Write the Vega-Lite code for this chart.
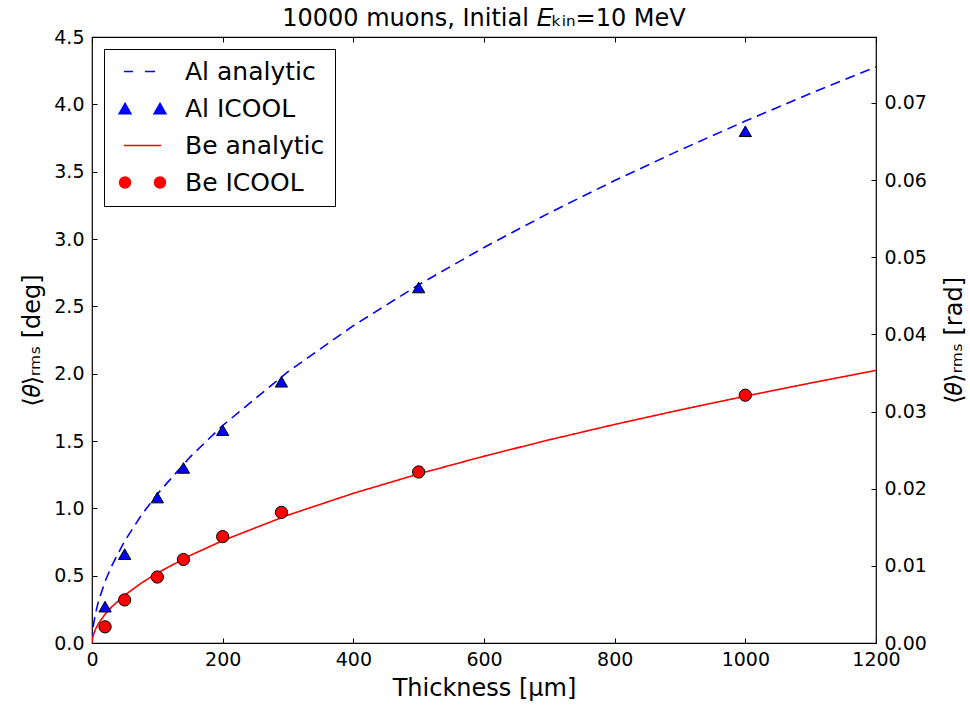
{
  "$schema": "https://vega.github.io/schema/vega-lite/v6.json",
  "width": 784,
  "height": 606,
  "autosize": {"type": "none"},
  "padding": {"left": 92, "top": 37, "right": 94, "bottom": 66},
  "background": "white",
  "title": {
    "text": "10000 muons, Initial 𝐸ₖᵢₙ=10 MeV",
    "font": "DejaVu Sans",
    "fontSize": 24,
    "fontWeight": "normal",
    "color": "black",
    "anchor": "middle",
    "frame": "group",
    "offset": -3
  },
  "config": {
    "view": {"stroke": "black", "strokeWidth": 1.2},
    "axis": {
      "domain": false,
      "grid": false,
      "ticks": true,
      "tickColor": "black",
      "tickSize": -5,
      "tickWidth": 1,
      "labelFlush": false,
      "labelFont": "DejaVu Sans",
      "labelFontSize": 19,
      "labelColor": "black",
      "titleFont": "DejaVu Sans",
      "titleFontSize": 24,
      "titleFontWeight": "normal",
      "titleColor": "black"
    }
  },
  "data": {
    "values": [
      {"series": "Al analytic", "thickness": 0, "theta": 0},
      {"series": "Al analytic", "thickness": 0.2, "theta": 0.035},
      {"series": "Al analytic", "thickness": 1, "theta": 0.0867},
      {"series": "Al analytic", "thickness": 2, "theta": 0.1277},
      {"series": "Al analytic", "thickness": 5, "theta": 0.2126},
      {"series": "Al analytic", "thickness": 10, "theta": 0.3120},
      {"series": "Al analytic", "thickness": 20, "theta": 0.4574},
      {"series": "Al analytic", "thickness": 30, "theta": 0.5717},
      {"series": "Al analytic", "thickness": 50, "theta": 0.7568},
      {"series": "Al analytic", "thickness": 75, "theta": 0.9451},
      {"series": "Al analytic", "thickness": 100, "theta": 1.1062},
      {"series": "Al analytic", "thickness": 150, "theta": 1.3806},
      {"series": "Al analytic", "thickness": 200, "theta": 1.6153},
      {"series": "Al analytic", "thickness": 300, "theta": 2.0147},
      {"series": "Al analytic", "thickness": 400, "theta": 2.3562},
      {"series": "Al analytic", "thickness": 500, "theta": 2.6602},
      {"series": "Al analytic", "thickness": 600, "theta": 2.9373},
      {"series": "Al analytic", "thickness": 700, "theta": 3.1938},
      {"series": "Al analytic", "thickness": 800, "theta": 3.4339},
      {"series": "Al analytic", "thickness": 900, "theta": 3.6606},
      {"series": "Al analytic", "thickness": 1000, "theta": 3.8759},
      {"series": "Al analytic", "thickness": 1100, "theta": 4.0815},
      {"series": "Al analytic", "thickness": 1200, "theta": 4.2786},
      {"series": "Al ICOOL", "thickness": 20, "theta": 0.27},
      {"series": "Al ICOOL", "thickness": 50, "theta": 0.66},
      {"series": "Al ICOOL", "thickness": 100, "theta": 1.08},
      {"series": "Al ICOOL", "thickness": 140, "theta": 1.30},
      {"series": "Al ICOOL", "thickness": 200, "theta": 1.58},
      {"series": "Al ICOOL", "thickness": 290, "theta": 1.94},
      {"series": "Al ICOOL", "thickness": 500, "theta": 2.64},
      {"series": "Al ICOOL", "thickness": 1000, "theta": 3.80},
      {"series": "Be analytic", "thickness": 0, "theta": 0},
      {"series": "Be analytic", "thickness": 0.2, "theta": 0.016},
      {"series": "Be analytic", "thickness": 1, "theta": 0.0400},
      {"series": "Be analytic", "thickness": 2, "theta": 0.0591},
      {"series": "Be analytic", "thickness": 5, "theta": 0.0987},
      {"series": "Be analytic", "thickness": 10, "theta": 0.1454},
      {"series": "Be analytic", "thickness": 20, "theta": 0.2136},
      {"series": "Be analytic", "thickness": 30, "theta": 0.2674},
      {"series": "Be analytic", "thickness": 50, "theta": 0.3547},
      {"series": "Be analytic", "thickness": 75, "theta": 0.4435},
      {"series": "Be analytic", "thickness": 100, "theta": 0.5196},
      {"series": "Be analytic", "thickness": 150, "theta": 0.6494},
      {"series": "Be analytic", "thickness": 200, "theta": 0.7604},
      {"series": "Be analytic", "thickness": 300, "theta": 0.9496},
      {"series": "Be analytic", "thickness": 400, "theta": 1.1115},
      {"series": "Be analytic", "thickness": 500, "theta": 1.2557},
      {"series": "Be analytic", "thickness": 600, "theta": 1.3872},
      {"series": "Be analytic", "thickness": 700, "theta": 1.5089},
      {"series": "Be analytic", "thickness": 800, "theta": 1.6230},
      {"series": "Be analytic", "thickness": 900, "theta": 1.7306},
      {"series": "Be analytic", "thickness": 1000, "theta": 1.8329},
      {"series": "Be analytic", "thickness": 1100, "theta": 1.9306},
      {"series": "Be analytic", "thickness": 1200, "theta": 2.0243},
      {"series": "Be ICOOL", "thickness": 20, "theta": 0.12},
      {"series": "Be ICOOL", "thickness": 50, "theta": 0.32},
      {"series": "Be ICOOL", "thickness": 100, "theta": 0.49},
      {"series": "Be ICOOL", "thickness": 140, "theta": 0.62},
      {"series": "Be ICOOL", "thickness": 200, "theta": 0.79},
      {"series": "Be ICOOL", "thickness": 290, "theta": 0.97},
      {"series": "Be ICOOL", "thickness": 500, "theta": 1.27},
      {"series": "Be ICOOL", "thickness": 1000, "theta": 1.84}
    ]
  },
  "layer": [
    {
      "transform": [{"filter": "datum.series == 'Al analytic' || datum.series == 'Be analytic'"}],
      "mark": {"type": "line", "strokeWidth": 1.6, "clip": true},
      "encoding": {
        "x": {
          "field": "thickness",
          "type": "quantitative",
          "scale": {"domain": [0, 1200], "nice": false},
          "axis": {
            "orient": "bottom",
            "title": "Thickness [μm]",
            "values": [0, 200, 400, 600, 800, 1000, 1200],
            "format": "d",
            "labelPadding": 12,
            "titlePadding": 7
          }
        },
        "y": {
          "field": "theta",
          "type": "quantitative",
          "scale": {"domain": [0, 4.5], "nice": false},
          "axis": {
            "orient": "left",
            "title": "⟨𝜃⟩ᵣₘₛ [deg]",
            "values": [0, 0.5, 1, 1.5, 2, 2.5, 3, 3.5, 4, 4.5],
            "format": ".1f",
            "labelPadding": 13,
            "titlePadding": 9
          }
        },
        "color": {
          "field": "series",
          "type": "nominal",
          "scale": {"domain": ["Al analytic", "Be analytic"], "range": ["#0000ff", "#ff0000"]},
          "legend": null
        },
        "strokeDash": {
          "field": "series",
          "type": "nominal",
          "scale": {"domain": ["Al analytic", "Be analytic"], "range": [[10, 6], [1, 0]]},
          "legend": null
        }
      }
    },
    {
      "transform": [{"filter": "datum.series == 'Al ICOOL' || datum.series == 'Be ICOOL'"}],
      "mark": {"type": "point", "filled": true, "stroke": "black", "strokeWidth": 1, "opacity": 1, "size": 150},
      "encoding": {
        "x": {
          "field": "thickness",
          "type": "quantitative",
          "scale": {"domain": [0, 1200], "nice": false},
          "axis": {
            "orient": "top",
            "title": null,
            "labels": false,
            "values": [0, 200, 400, 600, 800, 1000, 1200]
          }
        },
        "y": {
          "field": "theta",
          "type": "quantitative",
          "scale": {"domain": [0, 4.5], "nice": false},
          "axis": {
            "orient": "right",
            "title": "⟨𝜃⟩ᵣₘₛ [rad]",
            "titleAngle": 270,
            "titleBaseline": "top",
            "values": [0, 0.572958, 1.145916, 1.718873, 2.291831, 2.864789, 3.437747, 4.010705],
            "labelExpr": "format(datum.value * PI / 180, '.2f')",
            "labelPadding": 13,
            "titlePadding": 16
          }
        },
        "fill": {
          "field": "series",
          "type": "nominal",
          "scale": {"domain": ["Al ICOOL", "Be ICOOL"], "range": ["#0000ff", "#ff0000"]},
          "legend": null
        },
        "shape": {
          "field": "series",
          "type": "nominal",
          "scale": {"domain": ["Al ICOOL", "Be ICOOL"], "range": ["triangle-up", "circle"]},
          "legend": null
        }
      }
    },
    {
      "mark": {"type": "point", "opacity": 0, "size": 10},
      "encoding": {
        "x": {"field": "thickness", "type": "quantitative", "axis": null},
        "y": {"field": "theta", "type": "quantitative", "axis": null},
        "stroke": {
          "field": "series",
          "type": "nominal",
          "scale": {
            "domain": ["Al analytic", "Al ICOOL", "Be analytic", "Be ICOOL"],
            "range": ["#0000ff", "#0000ff", "#ff0000", "#ff0000"]
          }
        },
        "shape": {
          "field": "series",
          "type": "nominal",
          "scale": {
            "domain": ["Al analytic", "Al ICOOL", "Be analytic", "Be ICOOL"],
            "range": [
              "M-1.95,0H-1M0.26,0H1.32",
              "M-1.84,-0.55L-2.47,0.55L-1.21,0.55Z M-1.84,-0.32L-2.27,0.43L-1.41,0.43Z M-1.84,-0.08L-2.06,0.31L-1.62,0.31Z M-1.84,0.14L-1.87,0.2L-1.81,0.2Z M1.84,-0.55L1.21,0.55L2.47,0.55Z M1.84,-0.32L1.41,0.43L2.27,0.43Z M1.84,-0.08L1.62,0.31L2.06,0.31Z M1.84,0.14L1.81,0.2L1.87,0.2Z",
              "M-1.95,0H1.95",
              "M-1.26,0A0.58,0.58,0,1,1,-2.42,0A0.58,0.58,0,1,1,-1.26,0Z M-1.39,0A0.45,0.45,0,1,1,-2.29,0A0.45,0.45,0,1,1,-1.39,0Z M-1.52,0A0.32,0.32,0,1,1,-2.16,0A0.32,0.32,0,1,1,-1.52,0Z M-1.65,0A0.19,0.19,0,1,1,-2.03,0A0.19,0.19,0,1,1,-1.65,0Z M-1.77,0A0.07,0.07,0,1,1,-1.91,0A0.07,0.07,0,1,1,-1.77,0Z M2.42,0A0.58,0.58,0,1,1,1.26,0A0.58,0.58,0,1,1,2.42,0Z M2.29,0A0.45,0.45,0,1,1,1.39,0A0.45,0.45,0,1,1,2.29,0Z M2.16,0A0.32,0.32,0,1,1,1.52,0A0.32,0.32,0,1,1,2.16,0Z M2.03,0A0.19,0.19,0,1,1,1.65,0A0.19,0.19,0,1,1,2.03,0Z M1.91,0A0.07,0.07,0,1,1,1.77,0A0.07,0.07,0,1,1,1.91,0Z"
            ]
          },
          "legend": {
            "title": null,
            "orient": "top-left",
            "offset": 12,
            "padding": 10,
            "strokeColor": "black",
            "fillColor": "white",
            "symbolSize": 361,
            "symbolOffset": 16,
            "symbolStrokeWidth": 1.4,
            "labelFont": "DejaVu Sans",
            "labelFontSize": 25,
            "labelColor": "black",
            "labelOffset": 30,
            "rowPadding": 11,
            "encode": {
              "symbols": {"opacity": {"value": 1}}
            }
          }
        }
      }
    }
  ],
  "resolve": {
    "scale": {"y": "independent", "shape": "independent", "color": "independent", "fill": "independent", "stroke": "independent"},
    "axis": {"x": "independent", "y": "independent"}
  }
}
